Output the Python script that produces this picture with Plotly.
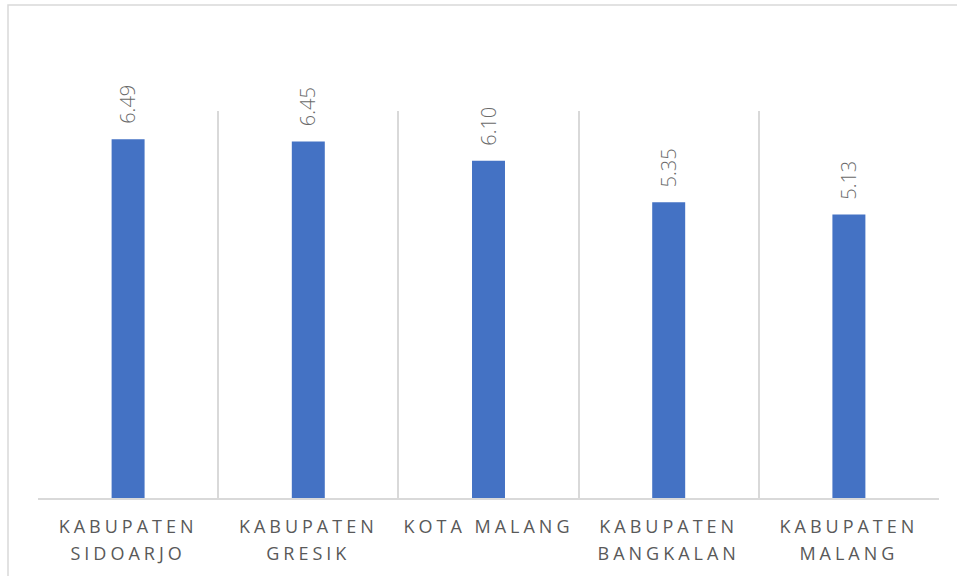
import plotly.graph_objects as go

categories = ["KABUPATEN<br>SIDOARJO", "KABUPATEN<br>GRESIK", "KOTA MALANG",
              "KABUPATEN<br>BANGKALAN", "KABUPATEN<br>MALANG"]
values = [6.49, 6.45, 6.10, 5.35, 5.13]

BAR = "#4472C4"
TXT = "#595959"
LBL = "#6A6A6A"
GRID = "#D9D9D9"
FONT = "Open Sans"

fig = go.Figure()
fig.add_trace(go.Bar(x=categories, y=values, marker=dict(color=BAR, line=dict(width=0)),
                     width=0.183, hoverinfo="skip"))

for c, v in zip(categories, values):
    fig.add_annotation(x=c, y=v, text=f"{v:.2f}", textangle=-90, showarrow=False,
                       xanchor="center", yanchor="bottom", yshift=13,
                       font=dict(family=FONT, size=20, color=LBL, weight=300))

fig.add_shape(type="rect", xref="paper", yref="paper",
              x0=(8 - 38) / 901, x1=1.2, y0=-1, y1=(498 - 5) / 387,
              line=dict(color=GRID, width=1.5), fillcolor="rgba(0,0,0,0)", layer="below")

fig.update_layout(
    width=957, height=576,
    margin=dict(l=38, r=18, t=111, b=78),
    paper_bgcolor="white", plot_bgcolor="white",
    showlegend=False, bargap=0.817,
    font=dict(family=FONT, color=TXT),
    xaxis=dict(tickson="boundaries", showgrid=True, gridcolor=GRID, gridwidth=1.5,
               showline=True, linecolor=GRID, linewidth=1.5, ticks="",
               tickfont=dict(family=FONT, size=18, color=TXT), ticklabelstandoff=12,
               fixedrange=True),
    yaxis=dict(range=[0, 7], showgrid=False, showticklabels=False, zeroline=False,
               showline=False, fixedrange=True),
)

post = """
document.body.style.margin='0';
var gd=document.getElementById('{plot_id}');
function sp(){
  gd.querySelectorAll('.xtick text, .xtick tspan').forEach(function(t){t.style.letterSpacing='4px';});
  gd.querySelectorAll('.xtick tspan.line').forEach(function(t){
    var d=parseFloat(t.getAttribute('dy')||'0');
    if(d>0){t.setAttribute('dy', (d/1.3*1.5)+'em');}
  });
}
sp(); gd.on('plotly_afterplot', sp);
"""
fig.write_html("out.html", post_script=post, config={"displayModeBar": False})
